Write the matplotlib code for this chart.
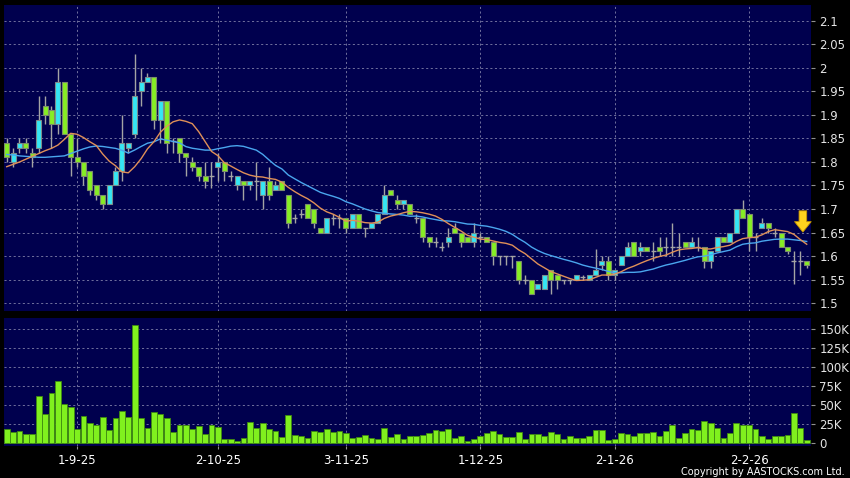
import matplotlib
matplotlib.use('Agg')
import matplotlib.pyplot as plt
import numpy as np
import pandas as pd

# daily OHLC
opens = [1.84, 1.80, 1.83, 1.84, 1.82, 1.83, 1.92, 1.91, 1.88, 1.97,
         1.86, 1.81, 1.80, 1.78, 1.75, 1.73, 1.71, 1.75, 1.78, 1.83,
         1.86, 1.95, 1.97, 1.98, 1.89, 1.93, 1.845, 1.85, 1.82, 1.80,
         1.79, 1.77, 1.77, 1.79, 1.80, 1.77, 1.75, 1.76, 1.75, 1.76,
         1.73, 1.76, 1.74, 1.76, 1.73, 1.68, 1.69, 1.71, 1.70, 1.66,
         1.65, 1.68, 1.68, 1.68, 1.66, 1.69, 1.66, 1.66, 1.67, 1.69,
         1.74, 1.72, 1.71, 1.71, 1.68, 1.68, 1.64, 1.63, 1.62, 1.63,
         1.66, 1.65, 1.64, 1.63, 1.64, 1.64, 1.63, 1.60, 1.60, 1.60,
         1.59, 1.55, 1.55, 1.53, 1.53, 1.57, 1.56, 1.55, 1.55, 1.55,
         1.555, 1.55, 1.56, 1.58, 1.59, 1.56, 1.58, 1.60, 1.63, 1.61,
         1.62, 1.61, 1.62, 1.62, 1.62, 1.62, 1.63, 1.62, 1.62, 1.62,
         1.59, 1.61, 1.64, 1.63, 1.65, 1.70, 1.69, 1.64, 1.66, 1.67,
         1.65, 1.65, 1.62, 1.59, 1.59, 1.59]
highs = [1.85, 1.83, 1.85, 1.85, 1.83, 1.94, 1.94, 1.92, 2.00, 1.97,
         1.86, 1.85, 1.80, 1.78, 1.75, 1.73, 1.75, 1.79, 1.90, 1.84,
         2.03, 2.00, 1.99, 1.98, 1.93, 1.93, 1.85, 1.85, 1.82, 1.81,
         1.79, 1.80, 1.80, 1.82, 1.80, 1.78, 1.77, 1.76, 1.76, 1.80,
         1.76, 1.79, 1.76, 1.76, 1.73, 1.69, 1.70, 1.71, 1.70, 1.66,
         1.68, 1.69, 1.69, 1.68, 1.69, 1.69, 1.66, 1.67, 1.69, 1.75,
         1.74, 1.73, 1.72, 1.71, 1.69, 1.68, 1.64, 1.64, 1.63, 1.66,
         1.67, 1.65, 1.64, 1.67, 1.65, 1.64, 1.63, 1.60, 1.60, 1.60,
         1.59, 1.56, 1.55, 1.54, 1.56, 1.57, 1.56, 1.55, 1.55, 1.56,
         1.56, 1.56, 1.615, 1.60, 1.60, 1.57, 1.60, 1.63, 1.63, 1.63,
         1.62, 1.63, 1.64, 1.64, 1.67, 1.65, 1.63, 1.64, 1.64, 1.62,
         1.61, 1.64, 1.64, 1.65, 1.70, 1.72, 1.69, 1.65, 1.68, 1.67,
         1.66, 1.65, 1.62, 1.61, 1.61, 1.59]
lows = [1.80, 1.79, 1.82, 1.82, 1.79, 1.82, 1.88, 1.83, 1.86, 1.86,
        1.77, 1.79, 1.75, 1.73, 1.72, 1.70, 1.71, 1.75, 1.76, 1.82,
        1.85, 1.92, 1.97, 1.87, 1.84, 1.82, 1.82, 1.80, 1.77, 1.78,
        1.76, 1.745, 1.745, 1.76, 1.76, 1.76, 1.74, 1.72, 1.74, 1.72,
        1.70, 1.72, 1.74, 1.74, 1.66, 1.67, 1.68, 1.68, 1.66, 1.65,
        1.65, 1.665, 1.66, 1.65, 1.66, 1.66, 1.64, 1.66, 1.67, 1.69,
        1.73, 1.70, 1.70, 1.69, 1.67, 1.63, 1.62, 1.62, 1.61, 1.62,
        1.65, 1.62, 1.63, 1.62, 1.63, 1.63, 1.58, 1.58, 1.58, 1.575,
        1.54, 1.54, 1.52, 1.53, 1.53, 1.52, 1.53, 1.54, 1.54, 1.55,
        1.55, 1.55, 1.56, 1.57, 1.55, 1.55, 1.58, 1.60, 1.60, 1.60,
        1.61, 1.59, 1.60, 1.60, 1.60, 1.60, 1.62, 1.62, 1.61, 1.575,
        1.575, 1.61, 1.63, 1.63, 1.65, 1.68, 1.61, 1.61, 1.66, 1.65,
        1.64, 1.62, 1.605, 1.54, 1.56, 1.575]
closes = [1.81, 1.82, 1.84, 1.83, 1.81, 1.89, 1.90, 1.88, 1.97, 1.86,
          1.81, 1.80, 1.77, 1.74, 1.73, 1.71, 1.75, 1.78, 1.84, 1.84,
          1.94, 1.97, 1.98, 1.89, 1.93, 1.84, 1.845, 1.82, 1.81, 1.79,
          1.77, 1.76, 1.77, 1.80, 1.78, 1.77, 1.77, 1.75, 1.76, 1.76,
          1.76, 1.73, 1.75, 1.74, 1.67, 1.68, 1.69, 1.68, 1.67, 1.65,
          1.68, 1.68, 1.68, 1.66, 1.69, 1.66, 1.66, 1.67, 1.69, 1.73,
          1.73, 1.71, 1.72, 1.69, 1.68, 1.64, 1.63, 1.63, 1.62, 1.64,
          1.65, 1.63, 1.63, 1.65, 1.64, 1.63, 1.60, 1.60, 1.60, 1.60,
          1.55, 1.55, 1.52, 1.54, 1.56, 1.55, 1.55, 1.55, 1.55, 1.56,
          1.555, 1.56, 1.57, 1.59, 1.56, 1.57, 1.60, 1.62, 1.60, 1.62,
          1.61, 1.61, 1.61, 1.62, 1.62, 1.62, 1.62, 1.63, 1.62, 1.59,
          1.61, 1.64, 1.63, 1.65, 1.70, 1.68, 1.64, 1.64, 1.67, 1.66,
          1.65, 1.62, 1.61, 1.59, 1.59, 1.58]

# volume in thousands
volumes = [18.4, 14.9, 15.8, 11.8, 11.8, 61.8, 38.6, 66.2, 82.5, 51.3,
           48.2, 19.3, 36.0, 26.3, 24.6, 34.2, 17.5, 33.3, 42.1, 35.1,
           155.7, 32.9, 20.6, 40.8, 38.6, 33.8, 14.9, 24.1, 24.1, 19.3,
           22.4, 12.3, 24.1, 21.9, 5.7, 5.7, 3.1, 7.0, 28.5, 20.2,
           26.8, 18.9, 15.8, 7.9, 36.8, 11.0, 9.2, 7.5, 16.2, 14.5,
           18.4, 15.4, 16.2, 14.0, 7.5, 8.8, 10.5, 7.0, 6.1, 20.2,
           8.3, 12.3, 5.3, 9.6, 9.6, 11.4, 13.2, 17.5, 15.8, 18.9,
           7.5, 9.6, 3.5, 5.7, 9.6, 13.6, 15.8, 12.3, 8.8, 8.8,
           15.4, 5.7, 11.8, 11.8, 9.6, 14.5, 12.3, 6.1, 9.2, 6.6,
           7.0, 9.6, 17.5, 18.0, 4.8, 5.7, 13.2, 12.7, 9.6, 14.0,
           14.0, 14.9, 10.1, 16.7, 23.7, 7.5, 13.2, 19.3, 18.0, 28.9,
           26.3, 19.7, 6.6, 13.6, 27.2, 23.7, 24.6, 18.4, 9.6, 6.1,
           9.6, 9.6, 10.5, 39.5, 20.6, 3.9]

# moving average values before a full window is available
ma10_head = [1.790, 1.795, 1.800, 1.806, 1.812, 1.818, 1.824, 1.829, 1.836, 1.848]
ma20_head = [1.816, 1.815, 1.813, 1.812, 1.811, 1.810, 1.810, 1.811, 1.812, 1.813,
             1.818, 1.823, 1.828, 1.832, 1.834, 1.833, 1.831, 1.829, 1.825]

date_pos = [11, 33, 53, 74, 95, 116]
date_labels = ['1-9-25', '2-10-25', '3-11-25', '1-12-25', '2-1-26', '2-2-26']
price_ticks = [1.5, 1.55, 1.6, 1.65, 1.7, 1.75, 1.8, 1.85, 1.9, 1.95, 2.0, 2.05, 2.1]
vol_ticks = [0, 25, 50, 75, 100, 125, 150]

o = np.array(opens); h = np.array(highs); l = np.array(lows); c = np.array(closes)
x = np.arange(len(c))

ma10 = pd.Series(c).rolling(10).mean().values
ma10[:len(ma10_head)] = ma10_head
ma20 = pd.Series(c).rolling(20).mean().values
ma20[:len(ma20_head)] = ma20_head

bg = '#00004e'
grid_kw = dict(color='#8282aa', ls=(0, (2.5, 3)), lw=0.6)

fig = plt.figure(figsize=(8.5, 4.78), dpi=100, facecolor='black')
ax = fig.add_axes([4/850, 1 - 311/478, 807/850, 306/478], facecolor=bg)
axv = fig.add_axes([4/850, 1 - 445.5/478, 807/850, 127.5/478], facecolor=bg)

# candles
up = c > o
dn = c < o
doji = c == o
bb = np.minimum(o, c)
bh = np.abs(c - o)
w = 0.8
ax.vlines(x, l, h, color='#a4a4a4', lw=1, zorder=2)
ax.bar(x[up], bh[up], bottom=bb[up], width=w, color='#35e6f4',
       edgecolor='#7c8c8c', lw=0.8, zorder=3)
ax.bar(x[dn], bh[dn], bottom=bb[dn], width=w, color='#86ee24',
       edgecolor='#7c8c6c', lw=0.8, zorder=3)
ax.hlines(c[doji], x[doji] - w/2, x[doji] + w/2, color='#a4a4a4', lw=1, zorder=3)

ax.plot(x, ma20, color='#4aa6ee', lw=1, zorder=4)
ax.plot(x, ma10, color='#e09058', lw=1, zorder=4)

ax.annotate('', xy=(124.4, 1.645), xytext=(124.4, 1.702),
            arrowprops=dict(arrowstyle='simple,head_width=1.2,head_length=0.75,tail_width=0.55',
                            fc='#ffd21e', ec='#c89600', lw=0.6), zorder=6)

ax.set_xlim(-0.42, 125.67)
ax.set_ylim(1.483, 2.134)
ax.set_yticks(price_ticks)
ax.set_yticklabels([f'{v:g}' for v in price_ticks])
ax.set_xticks(date_pos)
ax.tick_params(axis='x', length=0, labelbottom=False)
ax.yaxis.tick_right()
ax.tick_params(axis='y', colors='#909090', labelcolor='#e4e4e4', labelsize=8.5,
               length=3, width=0.8, pad=3)
ax.grid(True, **grid_kw)
ax.set_axisbelow(True)

# volume
axv.bar(x, volumes, width=0.9, color='#80f01e', edgecolor='#3f8a10', lw=0.6, zorder=3)
axv.set_xlim(-0.42, 125.67)
axv.set_ylim(-2.9, 164.9)
axv.set_yticks(vol_ticks)
axv.set_yticklabels(['0' if v == 0 else f'{v}K' for v in vol_ticks])
axv.yaxis.tick_right()
axv.tick_params(axis='y', colors='#909090', labelcolor='#e4e4e4', labelsize=8.5,
                length=3, width=0.8, pad=3)
axv.set_xticks(date_pos)
axv.set_xticklabels(date_labels)
axv.tick_params(axis='x', colors='#909090', labelcolor='white', labelsize=8.5,
                length=2, pad=4)
axv.grid(True, **grid_kw)
axv.set_axisbelow(True)

for a in (ax, axv):
    for s in a.spines.values():
        s.set_visible(False)

fig.text(845/850, 1 - 477/478, 'Copyright by AASTOCKS.com Ltd.', ha='right', va='bottom',
         color='white', fontsize=7)

fig.savefig('out.png', dpi=100, facecolor='black')
